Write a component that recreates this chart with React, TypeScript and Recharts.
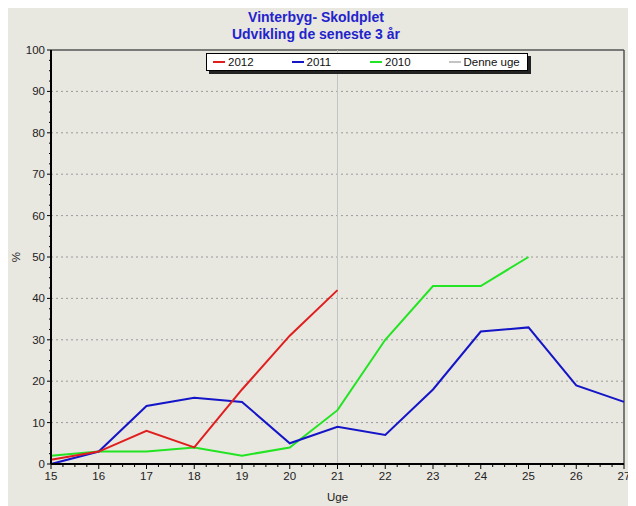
import {
  LineChart,
  Line,
  XAxis,
  YAxis,
  CartesianGrid,
  ReferenceLine,
  Legend,
} from "recharts";

const weeks = [15, 16, 17, 18, 19, 20, 21, 22, 23, 24, 25, 26, 27];
const pct2012 = [1, 3, 8, 4, 18, 31, 42];
const pct2011 = [0, 3, 14, 16, 15, 5, 9, 7, 18, 32, 33, 19, 15];
const pct2010 = [2, 3, 3, 4, 2, 4, 13, 30, 43, 43, 50];
const thisWeek = 21;

const gridValues = [10, 20, 30, 40, 50, 60, 70, 80, 90];
const xTicks = Array.from({ length: 49 }, (_, i) => 15 + i * 0.25);
const yTicks = Array.from({ length: 41 }, (_, i) => i * 2.5);

const legendItems = [
  { label: "2012", color: "#e01e1e" },
  { label: "2011", color: "#1515c8" },
  { label: "2010", color: "#22e422" },
  { label: "Denne uge", color: "#c4c4c4" },
];

const data = weeks.map((w, i) => ({
  week: w,
  y2012: pct2012[i],
  y2011: pct2011[i],
  y2010: pct2010[i],
}));

const font = "'Liberation Sans', Arial, sans-serif";

function XTick(props: any) {
  const { x, y, payload } = props;
  const v = payload.value;
  const major = Number.isInteger(v);
  const axisY = y - 8;
  return (
    <g>
      <line x1={x} x2={x} y1={axisY} y2={axisY + (major ? 5 : 3)} stroke="#000" />
      {major && (
        <text x={x} y={y} dy="0.71em" textAnchor="middle" fontSize={11.5} fill="#222" fontFamily={font}>
          {v}
        </text>
      )}
    </g>
  );
}

function YTick(props: any) {
  const { x, y, payload } = props;
  const v = payload.value;
  const major = v % 10 === 0;
  const axisX = x + 6;
  return (
    <g>
      <line x1={axisX} x2={axisX - (major ? 4 : 2)} y1={y} y2={y} stroke="#000" />
      {major && (
        <text x={x} y={y} dy="0.35em" textAnchor="end" fontSize={11.5} fill="#222" fontFamily={font}>
          {v}
        </text>
      )}
    </g>
  );
}

function LegendBox() {
  return (
    <div
      style={{
        display: "flex",
        background: "#fff",
        border: "1px solid #000",
        boxShadow: "3px 3px 0 #222",
        height: 16,
        alignItems: "center",
        fontFamily: font,
        fontSize: 11.5,
        color: "#111",
        paddingLeft: 6,
      }}
    >
      {legendItems.map((it) => (
        <div key={it.label} style={{ width: 80, display: "flex", alignItems: "center" }}>
          <span style={{ display: "inline-block", width: 12, height: 2, background: it.color, marginRight: 3 }} />
          {it.label}
        </div>
      ))}
    </div>
  );
}

export default function App() {
  return (
    <div style={{ position: "relative", width: 628, height: 498, background: "#e8e7e0" }}>
      <div
        style={{
          position: "absolute",
          left: 158,
          width: 300,
          top: 1,
          textAlign: "center",
          color: "#2323cc",
          fontFamily: font,
          fontWeight: "bold",
          fontSize: 14,
          lineHeight: "17px",
        }}
      >
        Vinterbyg- Skoldplet
        <br />
        Udvikling de seneste 3 år
      </div>
      <LineChart width={628} height={498} data={data} margin={{ top: 42, right: 12, left: 0, bottom: 0 }}>
        <CartesianGrid vertical={false} horizontalValues={gridValues} stroke="#9a9a9a" strokeDasharray="2 3" />
        <XAxis
          dataKey="week"
          type="number"
          domain={[15, 27]}
          ticks={xTicks}
          interval={0}
          height={42}
          tickSize={5}
          tickMargin={3}
          tickLine={false}
          tick={<XTick />}
          axisLine={{ stroke: "#000", strokeWidth: 2 }}
          label={{ value: "Uge", position: "insideBottom", offset: 5, fontSize: 11.5, fill: "#222", fontFamily: font }}
        />
        <YAxis
          type="number"
          domain={[0, 100]}
          ticks={yTicks}
          interval={0}
          width={43}
          tickSize={4}
          tickMargin={2}
          tickLine={false}
          tick={<YTick />}
          axisLine={{ stroke: "#000", strokeWidth: 2 }}
          label={{ value: "%", angle: -90, position: "insideLeft", offset: 8, fontSize: 11.5, fill: "#222", fontFamily: font, style: { textAnchor: "middle" } }}
        />
        <ReferenceLine y={100} stroke="#555" strokeWidth={1.5} />
        <ReferenceLine x={27} stroke="#555" strokeWidth={1.5} />
        <ReferenceLine x={thisWeek} stroke="#c4c4c4" strokeWidth={1} />
        <Line dataKey="y2010" stroke="#22e422" strokeWidth={2} dot={false} isAnimationActive={false} />
        <Line dataKey="y2011" stroke="#1515c8" strokeWidth={2} dot={false} isAnimationActive={false} />
        <Line dataKey="y2012" stroke="#e01e1e" strokeWidth={2} dot={false} isAnimationActive={false} />
        <Legend
          layout="horizontal"
          verticalAlign="middle"
          align="center"
          content={<LegendBox />}
          wrapperStyle={{ left: 198, top: 45, width: 322, height: 18 }}
        />
      </LineChart>
    </div>
  );
}
